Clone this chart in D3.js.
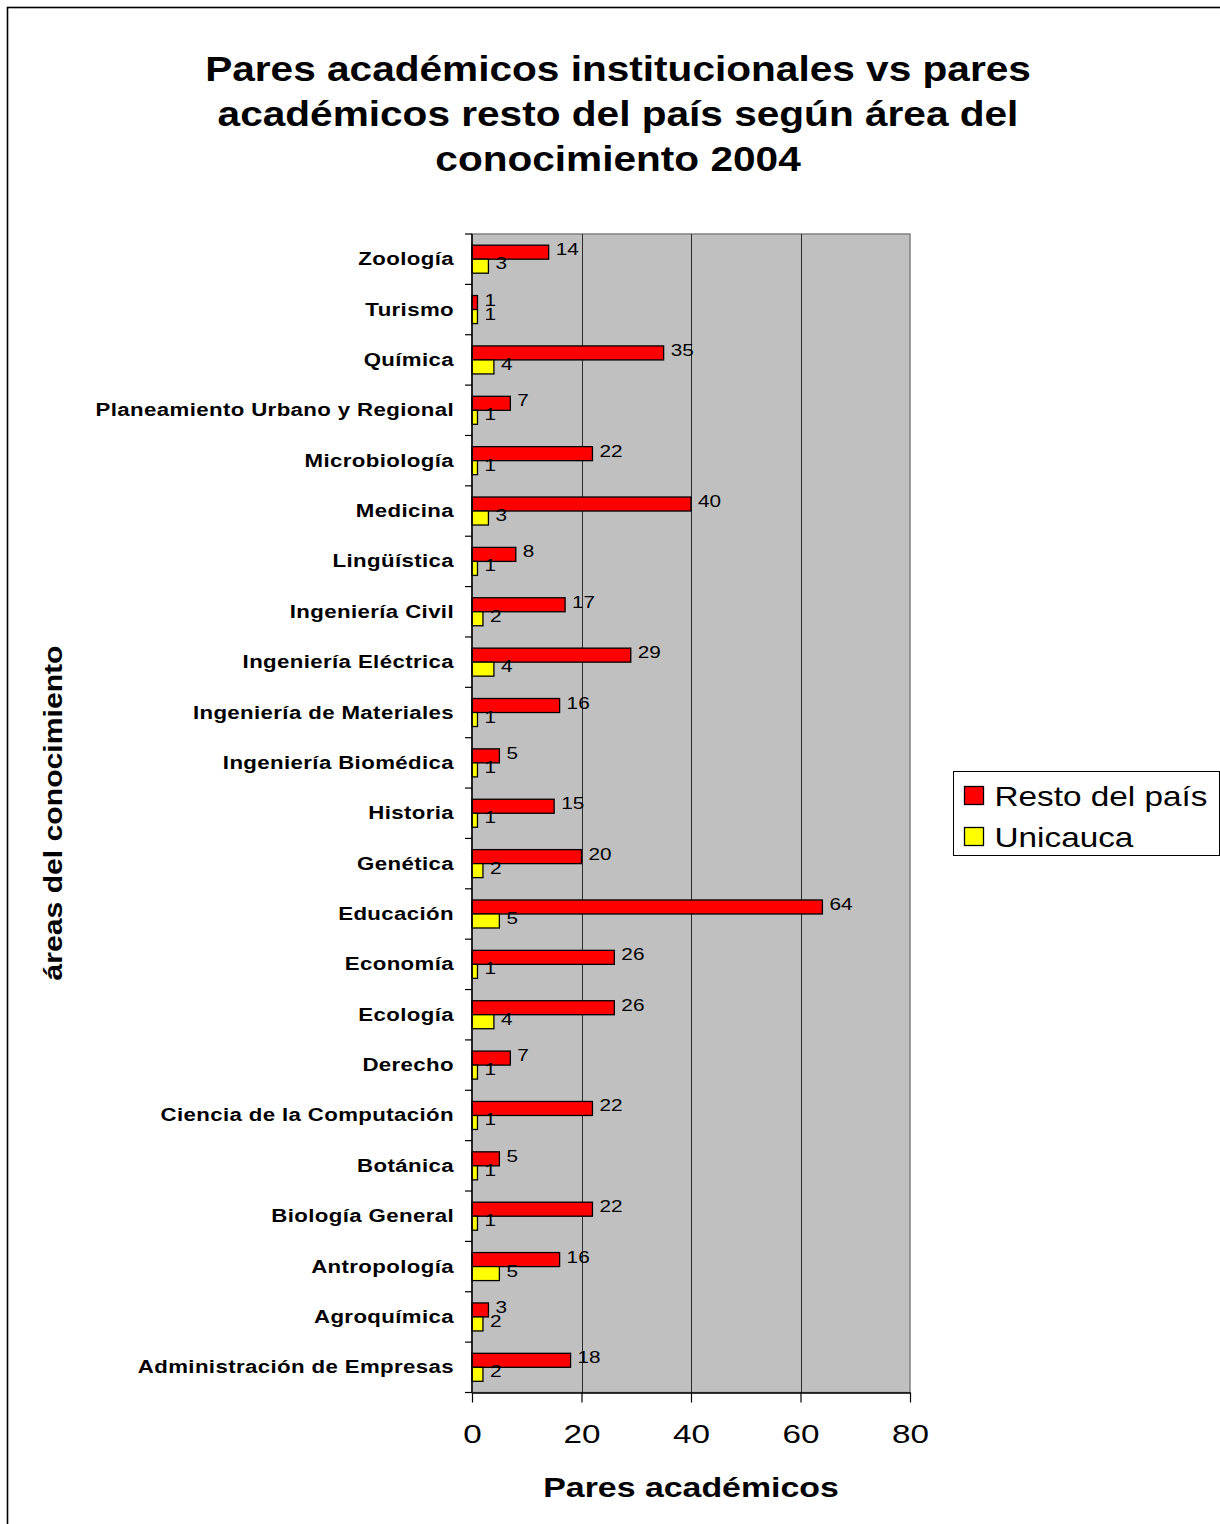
<!DOCTYPE html>
<html>
<head>
<meta charset="UTF-8">
<title>Pares académicos 2004</title>
<style>
  body { margin: 0; background: #ffffff; }
  svg text { font-family: "Liberation Sans", Arial, sans-serif; fill: #000; }
</style>
</head>
<body>
<div id="vis"></div>
<script src="https://d3js.org/d3.v7.min.js"></script>
<script>
// areas, top to bottom as drawn
var areas = ["Zoología", "Turismo", "Química", "Planeamiento Urbano y Regional", "Microbiología",
  "Medicina", "Lingüística", "Ingeniería Civil", "Ingeniería Eléctrica", "Ingeniería de Materiales",
  "Ingeniería Biomédica", "Historia", "Genética", "Educación", "Economía", "Ecología", "Derecho",
  "Ciencia de la Computación", "Botánica", "Biología General", "Antropología", "Agroquímica",
  "Administración de Empresas"];
var restoPais = [14, 1, 35, 7, 22, 40, 8, 17, 29, 16, 5, 15, 20, 64, 26, 26, 7, 22, 5, 22, 16, 3, 18];
var unicauca  = [3, 1, 4, 1, 1, 3, 1, 2, 4, 1, 1, 1, 2, 5, 1, 4, 1, 1, 1, 1, 5, 2, 2];
var seriesNames = ["Resto del país", "Unicauca"];
var seriesColors = ["#ff0000", "#ffff00"];
var xTicks = [0, 20, 40, 60, 80];
var titleLines = ["Pares académicos institucionales vs pares",
  "académicos resto del país según área del",
  "conocimiento 2004"];

var width = 1220, height = 1524;
var plot = {left: 472, right: 910, top: 234, bottom: 1392.5};

// the original picture is drawn a bit wide, so text gets a horizontal stretch
function stretch(sel, sx) {
  sel.each(function() {
    var t = d3.select(this);
    var tx = +t.attr("x") || 0, ty = +t.attr("y") || 0;
    t.attr("x", null).attr("y", null)
      .attr("transform", "translate(" + tx + "," + ty + ") scale(" + sx + ",1)");
  });
}

var svg = d3.select("#vis").append("svg")
  .attr("width", width)
  .attr("height", height);

// outer frame (runs off the right and bottom edges)
svg.append("rect")
  .attr("x", 7.5).attr("y", 7.5)
  .attr("width", width + 20).attr("height", height + 20)
  .attr("fill", "none")
  .attr("stroke", "#000")
  .attr("stroke-width", 1.6);

// title
svg.append("g").selectAll("text")
  .data(titleLines)
  .enter().append("text")
  .attr("x", 618)
  .attr("y", function(d, i) { return 81 + i * 45; })
  .attr("text-anchor", "middle")
  .style("font-size", "35px")
  .style("font-weight", "bold")
  .text(function(d) { return d; })
  .call(stretch, 1.16);

var x = d3.scaleLinear().domain([0, 80]).range([plot.left, plot.right]);
var y = d3.scaleBand().domain(areas).range([plot.top, plot.bottom]).padding(0);
var inner = d3.scaleBand().domain(seriesNames)
  .range([y.bandwidth() * 0.222, y.bandwidth() * 0.778]).padding(0);

// plot area
svg.append("rect")
  .attr("x", plot.left).attr("y", plot.top)
  .attr("width", plot.right - plot.left)
  .attr("height", plot.bottom - plot.top)
  .attr("fill", "#c0c0c0")
  .attr("stroke", "#808080")
  .attr("stroke-width", 1.5);

// vertical gridlines
svg.append("g").selectAll("line")
  .data(xTicks.slice(1, -1))
  .enter().append("line")
  .attr("x1", function(d) { return Math.round(x(d)) + 0.5; })
  .attr("x2", function(d) { return Math.round(x(d)) + 0.5; })
  .attr("y1", plot.top).attr("y2", plot.bottom)
  .attr("stroke", "#2a2a2a")
  .attr("stroke-width", 1);

// bars
var groups = svg.append("g").selectAll("g")
  .data(areas)
  .enter().append("g")
  .attr("transform", function(d) { return "translate(0," + y(d) + ")"; });

var barData = function(d, i) {
  return [
    {name: seriesNames[0], v: restoPais[i], c: seriesColors[0]},
    {name: seriesNames[1], v: unicauca[i], c: seriesColors[1]}
  ];
};

groups.selectAll("rect")
  .data(barData)
  .enter().append("rect")
  .attr("x", x(0))
  .attr("y", function(d) { return inner(d.name); })
  .attr("width", function(d) { return x(d.v) - x(0); })
  .attr("height", inner.bandwidth())
  .attr("fill", function(d) { return d.c; })
  .attr("stroke", "#000")
  .attr("stroke-width", 1.3);

groups.selectAll("text")
  .data(barData)
  .enter().append("text")
  .attr("x", function(d) { return x(d.v) + 7; })
  .attr("y", function(d) { return inner(d.name) + inner.bandwidth() / 2 + 3; })
  .style("font-size", "17px")
  .text(function(d) { return d.v; })
  .call(stretch, 1.22);

// y axis
var yAxis = svg.append("g")
  .attr("transform", "translate(" + plot.left + ",0)");
yAxis.append("line")
  .attr("x1", 0).attr("x2", 0)
  .attr("y1", plot.top).attr("y2", plot.bottom)
  .attr("stroke", "#000").attr("stroke-width", 1.5);
yAxis.selectAll("line.tick")
  .data(areas.concat(["end"]))
  .enter().append("line")
  .attr("class", "tick")
  .attr("x1", -7).attr("x2", 0)
  .attr("y1", function(d) { return d === "end" ? plot.bottom : y(d); })
  .attr("y2", function(d) { return d === "end" ? plot.bottom : y(d); })
  .attr("stroke", "#000").attr("stroke-width", 1.2);
yAxis.selectAll("text")
  .data(areas)
  .enter().append("text")
  .attr("x", -18)
  .attr("y", function(d) { return y(d) + y.bandwidth() / 2 + 6; })
  .attr("text-anchor", "end")
  .style("font-size", "17.5px")
  .style("font-weight", "bold")
  .style("letter-spacing", "0.3px")
  .text(function(d) { return d; })
  .call(stretch, 1.27);

// x axis
var xAxis = svg.append("g")
  .attr("transform", "translate(0," + plot.bottom + ")")
  .call(d3.axisBottom(x).tickValues(xTicks).tickSize(10).tickSizeOuter(0).tickPadding(22));
xAxis.select(".domain").attr("stroke", "#000").attr("stroke-width", 1.5);
xAxis.selectAll(".tick line").attr("stroke", "#000").attr("stroke-width", 1.2);
xAxis.selectAll(".tick text")
  .style("font-size", "26px")
  .style("font-family", "'Liberation Sans', Arial, sans-serif")
  .attr("fill", "#000")
  .attr("transform", "scale(1.28,1)");

// axis titles
svg.append("text")
  .attr("x", 691).attr("y", 1497)
  .attr("text-anchor", "middle")
  .style("font-size", "28px")
  .style("font-weight", "bold")
  .text("Pares académicos")
  .call(stretch, 1.21);

svg.append("text")
  .attr("transform", "translate(62,813) rotate(-90) scale(1.16,1)")
  .attr("text-anchor", "middle")
  .style("font-size", "26px")
  .style("font-weight", "bold")
  .text("áreas del conocimiento");

// legend
var legend = svg.append("g").attr("transform", "translate(953.5,771.5)");
legend.append("rect")
  .attr("width", 266).attr("height", 84)
  .attr("fill", "#fff")
  .attr("stroke", "#000").attr("stroke-width", 1);
var items = legend.selectAll("g")
  .data(seriesNames)
  .enter().append("g")
  .attr("transform", function(d, i) { return "translate(0," + (i * 41) + ")"; });
items.append("rect")
  .attr("x", 11).attr("y", 15)
  .attr("width", 19).attr("height", 18)
  .attr("fill", function(d, i) { return seriesColors[i]; })
  .attr("stroke", "#000").attr("stroke-width", 1.3);
items.append("text")
  .attr("x", 41).attr("y", 34)
  .style("font-size", "28px")
  .text(function(d) { return d; })
  .call(stretch, 1.19);
</script>
</body>
</html>
